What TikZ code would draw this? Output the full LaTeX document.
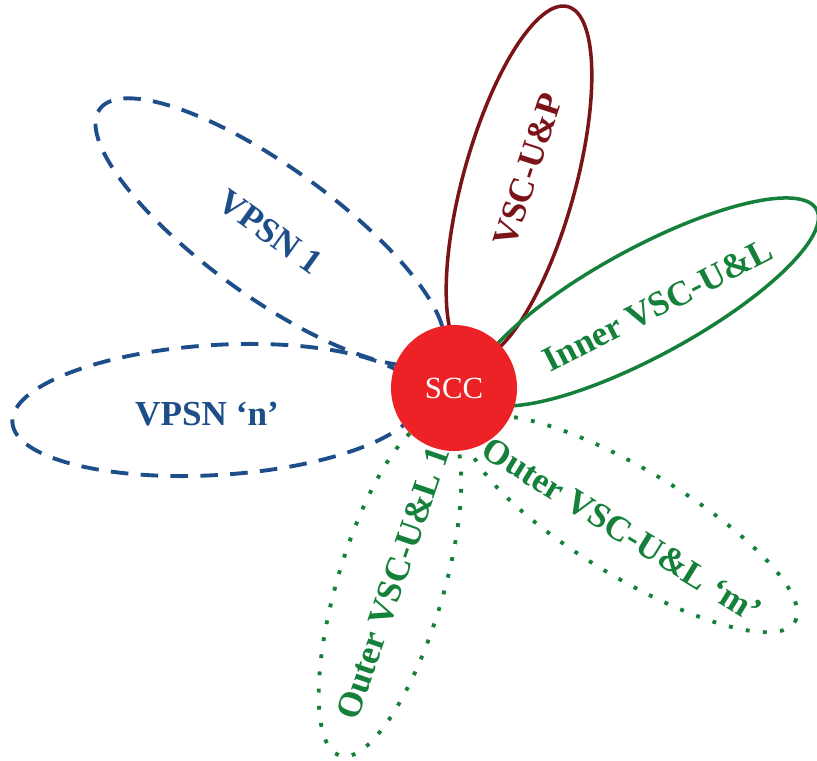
\documentclass[tikz,border=0pt]{standalone}
\usepackage{fontspec}
\setmainfont{Liberation Serif}
\usetikzlibrary{shapes.geometric}
\definecolor{petalblue}{RGB}{30,78,138}
\definecolor{petalred}{RGB}{122,20,24}
\definecolor{petalgreen}{RGB}{21,128,58}
\definecolor{sccred}{RGB}{236,34,39}

\begin{document}
\begin{tikzpicture}[
    x=0.2mm, y=0.2mm,
    % styles
    petal/.style={
        draw, ellipse, inner sep=0pt, line width=2.2pt
    },
    vpsn_petal/.style={
        petal, draw=petalblue, dash pattern=on 10pt off 7pt
    },
    up_petal/.style={
        petal, draw=petalred, line width=2pt
    },
    inner_petal/.style={
        petal, draw=petalgreen, line width=2pt
    },
    outer_petal/.style={
        petal, draw=petalgreen, dash pattern=on 2.2pt off 7.6pt
    },
    petal_label/.style={
        font=\fontsize{20}{24}\selectfont\bfseries
    },
    hub/.style={
        circle, fill=sccred, text=white, minimum size=25.2mm, inner sep=0pt,
        font=\fontsize{17.5}{20}\selectfont
    }
]
    \useasboundingbox (0,0) rectangle (817,760);

    % --- VPSN PETALS (left) ---
    \node[vpsn_petal, rotate=-35.8, minimum width=84mm, minimum height=26mm] (vpsn1) at (270,528) {};
    \node[vpsn_petal, rotate=3.5, minimum width=81.6mm, minimum height=26mm] (vpsnn) at (216,350) {};

    % --- VSC PETALS (right) ---
    \node[up_petal, rotate=74.5, minimum width=73.2mm, minimum height=22.4mm] (vscup) at (519,577) {};
    \node[inner_petal, rotate=28.5, minimum width=77.6mm, minimum height=21.6mm] (innervsc) at (646,458) {};
    \node[outer_petal, rotate=-31, minimum width=76mm, minimum height=21.6mm] (outerm) at (632,236) {};
    \node[outer_petal, rotate=73.4, minimum width=70mm, minimum height=21.2mm] (outer1) at (390,172) {};

    % labels
    \node[petal_label, text=petalblue, rotate=-35.8] (vpsn1_lbl) at (vpsn1.center) {VPSN 1};
    \node[petal_label, text=petalblue] (vpsnn_lbl) at (207,346) {VPSN ‘n’};
    \node[petal_label, text=petalred, rotate=72] (vscup_lbl) at (528,590) {VSC-U\&P};
    \node[petal_label, text=petalgreen, rotate=27] (innervsc_lbl) at (658,455) {Inner VSC-U\&L};
    \node[petal_label, text=petalgreen, rotate=-31.7] (outerm_lbl) at (622,230) {Outer VSC-U\&L ‘m’};
    \node[petal_label, text=petalgreen, rotate=71] (outer1_lbl) at (393,177) {Outer VSC-U\&L 1};

    % --- CENTRE ---
    \node[hub] (scc) at (454,372) {SCC};

\end{tikzpicture}
\end{document}
